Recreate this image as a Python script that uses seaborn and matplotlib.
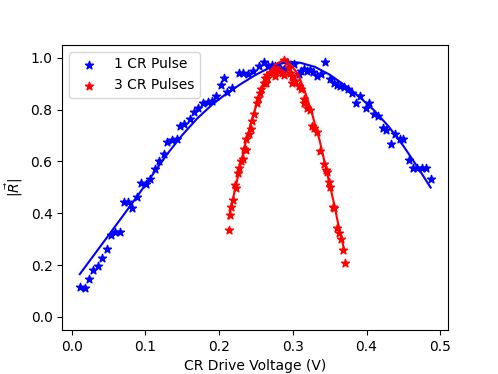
import matplotlib
matplotlib.use("Agg")
import matplotlib.pyplot as plt
import seaborn as sns
import numpy as np

# 1 CR pulse data
blue_x = [0.011, 0.0176, 0.0234, 0.0294, 0.0356, 0.0416, 0.0474, 0.0528, 0.0587, 0.065,
          0.0709, 0.0768, 0.0822, 0.089, 0.0944, 0.1007, 0.106, 0.113, 0.118, 0.125,
          0.1297, 0.1364, 0.1423, 0.1468, 0.153, 0.160, 0.166, 0.172, 0.178, 0.185,
          0.191, 0.196, 0.202, 0.206, 0.211, 0.218, 0.2267, 0.2327, 0.239, 0.246,
          0.254, 0.2606, 0.266, 0.272, 0.2764, 0.282, 0.288, 0.294, 0.301, 0.308,
          0.311, 0.3148, 0.3194, 0.3238, 0.3275, 0.333, 0.3383, 0.344, 0.350, 0.3554,
          0.360, 0.3645, 0.370, 0.3744, 0.3803, 0.386, 0.3916, 0.3997, 0.404, 0.4106,
          0.415, 0.4223, 0.4268, 0.433, 0.439, 0.4458, 0.450, 0.457, 0.463, 0.468,
          0.475, 0.481, 0.487]
blue_y = [0.115, 0.112, 0.146, 0.180, 0.197, 0.229, 0.261, 0.316, 0.328, 0.328,
          0.443, 0.445, 0.422, 0.464, 0.518, 0.513, 0.534, 0.570, 0.602, 0.630,
          0.674, 0.684, 0.687, 0.738, 0.745, 0.763, 0.789, 0.805, 0.824, 0.829,
          0.833, 0.851, 0.897, 0.922, 0.870, 0.884, 0.941, 0.941, 0.939, 0.951,
          0.969, 0.985, 0.968, 0.973, 0.967, 0.960, 0.955, 0.962, 0.977, 0.939,
          0.948, 0.957, 0.951, 0.954, 0.944, 0.929, 0.939, 0.982, 0.919, 0.903,
          0.897, 0.893, 0.888, 0.878, 0.865, 0.824, 0.852, 0.808, 0.827, 0.782,
          0.776, 0.728, 0.723, 0.668, 0.706, 0.687, 0.687, 0.604, 0.575, 0.573,
          0.575, 0.575, 0.531]

# 1 CR pulse fit
blue_fit_x = [0.011, 0.03, 0.05, 0.07, 0.09, 0.11, 0.13, 0.15, 0.17, 0.19, 0.21, 0.23,
              0.25, 0.27, 0.285, 0.30, 0.31, 0.33, 0.35, 0.37, 0.39, 0.41, 0.43, 0.45,
              0.47, 0.487]
blue_fit_y = [0.165, 0.238, 0.315, 0.392, 0.470, 0.550, 0.630, 0.702, 0.765, 0.818,
              0.862, 0.900, 0.935, 0.964, 0.979, 0.984, 0.981, 0.965, 0.935, 0.895,
              0.850, 0.798, 0.735, 0.660, 0.575, 0.499]

# 3 CR pulses data
red_x = [0.213, 0.2145, 0.2168, 0.219, 0.2209, 0.2227, 0.2254, 0.2276, 0.230, 0.232,
         0.2344, 0.237, 0.2371, 0.2403, 0.2435, 0.2449, 0.2471, 0.2516, 0.2524, 0.2551,
         0.257, 0.2606, 0.263, 0.2629, 0.265, 0.2652, 0.2697, 0.274, 0.2764, 0.2778,
         0.281, 0.2855, 0.2877, 0.2877, 0.292, 0.2945, 0.296, 0.299, 0.299, 0.300,
         0.301, 0.3035, 0.308, 0.311, 0.3148, 0.3157, 0.3194, 0.323, 0.326, 0.329,
         0.333, 0.3374, 0.342, 0.3455, 0.3465, 0.3487, 0.351, 0.3546, 0.3564, 0.360,
         0.3622, 0.3654, 0.368, 0.3713]
red_y = [0.335, 0.392, 0.424, 0.452, 0.509, 0.496, 0.557, 0.575, 0.600, 0.611,
         0.649, 0.646, 0.687, 0.706, 0.725, 0.757, 0.782, 0.827, 0.846, 0.865,
         0.878, 0.903, 0.903, 0.922, 0.922, 0.935, 0.941, 0.948, 0.929, 0.961,
         0.948, 0.941, 0.990, 0.935, 0.982, 0.961, 0.941, 0.929, 0.903, 0.929,
         0.910, 0.910, 0.891, 0.878, 0.842, 0.827, 0.808, 0.798, 0.738, 0.728,
         0.713, 0.642, 0.592, 0.566, 0.560, 0.522, 0.503, 0.426, 0.420, 0.344,
         0.324, 0.299, 0.257, 0.210]

# 3 CR pulses fit
red_fit_x = [0.213, 0.2265, 0.2365, 0.2465, 0.2565, 0.2665, 0.2765, 0.2865, 0.2965,
             0.3065, 0.3165, 0.3265, 0.3365, 0.3465, 0.3565, 0.360, 0.370]
red_fit_y = [0.380, 0.555, 0.680, 0.780, 0.870, 0.940, 0.975, 0.990, 0.975,
             0.940, 0.870, 0.780, 0.680, 0.555, 0.430, 0.380, 0.255]

fig, ax = plt.subplots(figsize=(4.98, 3.74), dpi=100)
fig.subplots_adjust(left=0.125, right=0.9, top=0.88, bottom=0.118)

sns.scatterplot(x=blue_x, y=blue_y, marker='*', color='b', s=36,
                edgecolor='b', linewidth=1, label='1 CR Pulse', ax=ax)
sns.lineplot(x=blue_fit_x, y=blue_fit_y, color='b', sort=False, estimator=None,
             linewidth=1.5, legend=False, ax=ax)
sns.scatterplot(x=red_x, y=red_y, marker='*', color='r', s=36,
                edgecolor='r', linewidth=1, label='3 CR Pulses', ax=ax)
sns.lineplot(x=red_fit_x, y=red_fit_y, color='r', sort=False, estimator=None,
             linewidth=1.5, legend=False, ax=ax)

ax.set_ylim(-0.05, 1.05)
ax.set_xlabel('CR Drive Voltage (V)')
ax.set_ylabel(r'$|\vec{R}|$')
ax.legend(loc='upper left')

plt.savefig('out.png', dpi=100)
